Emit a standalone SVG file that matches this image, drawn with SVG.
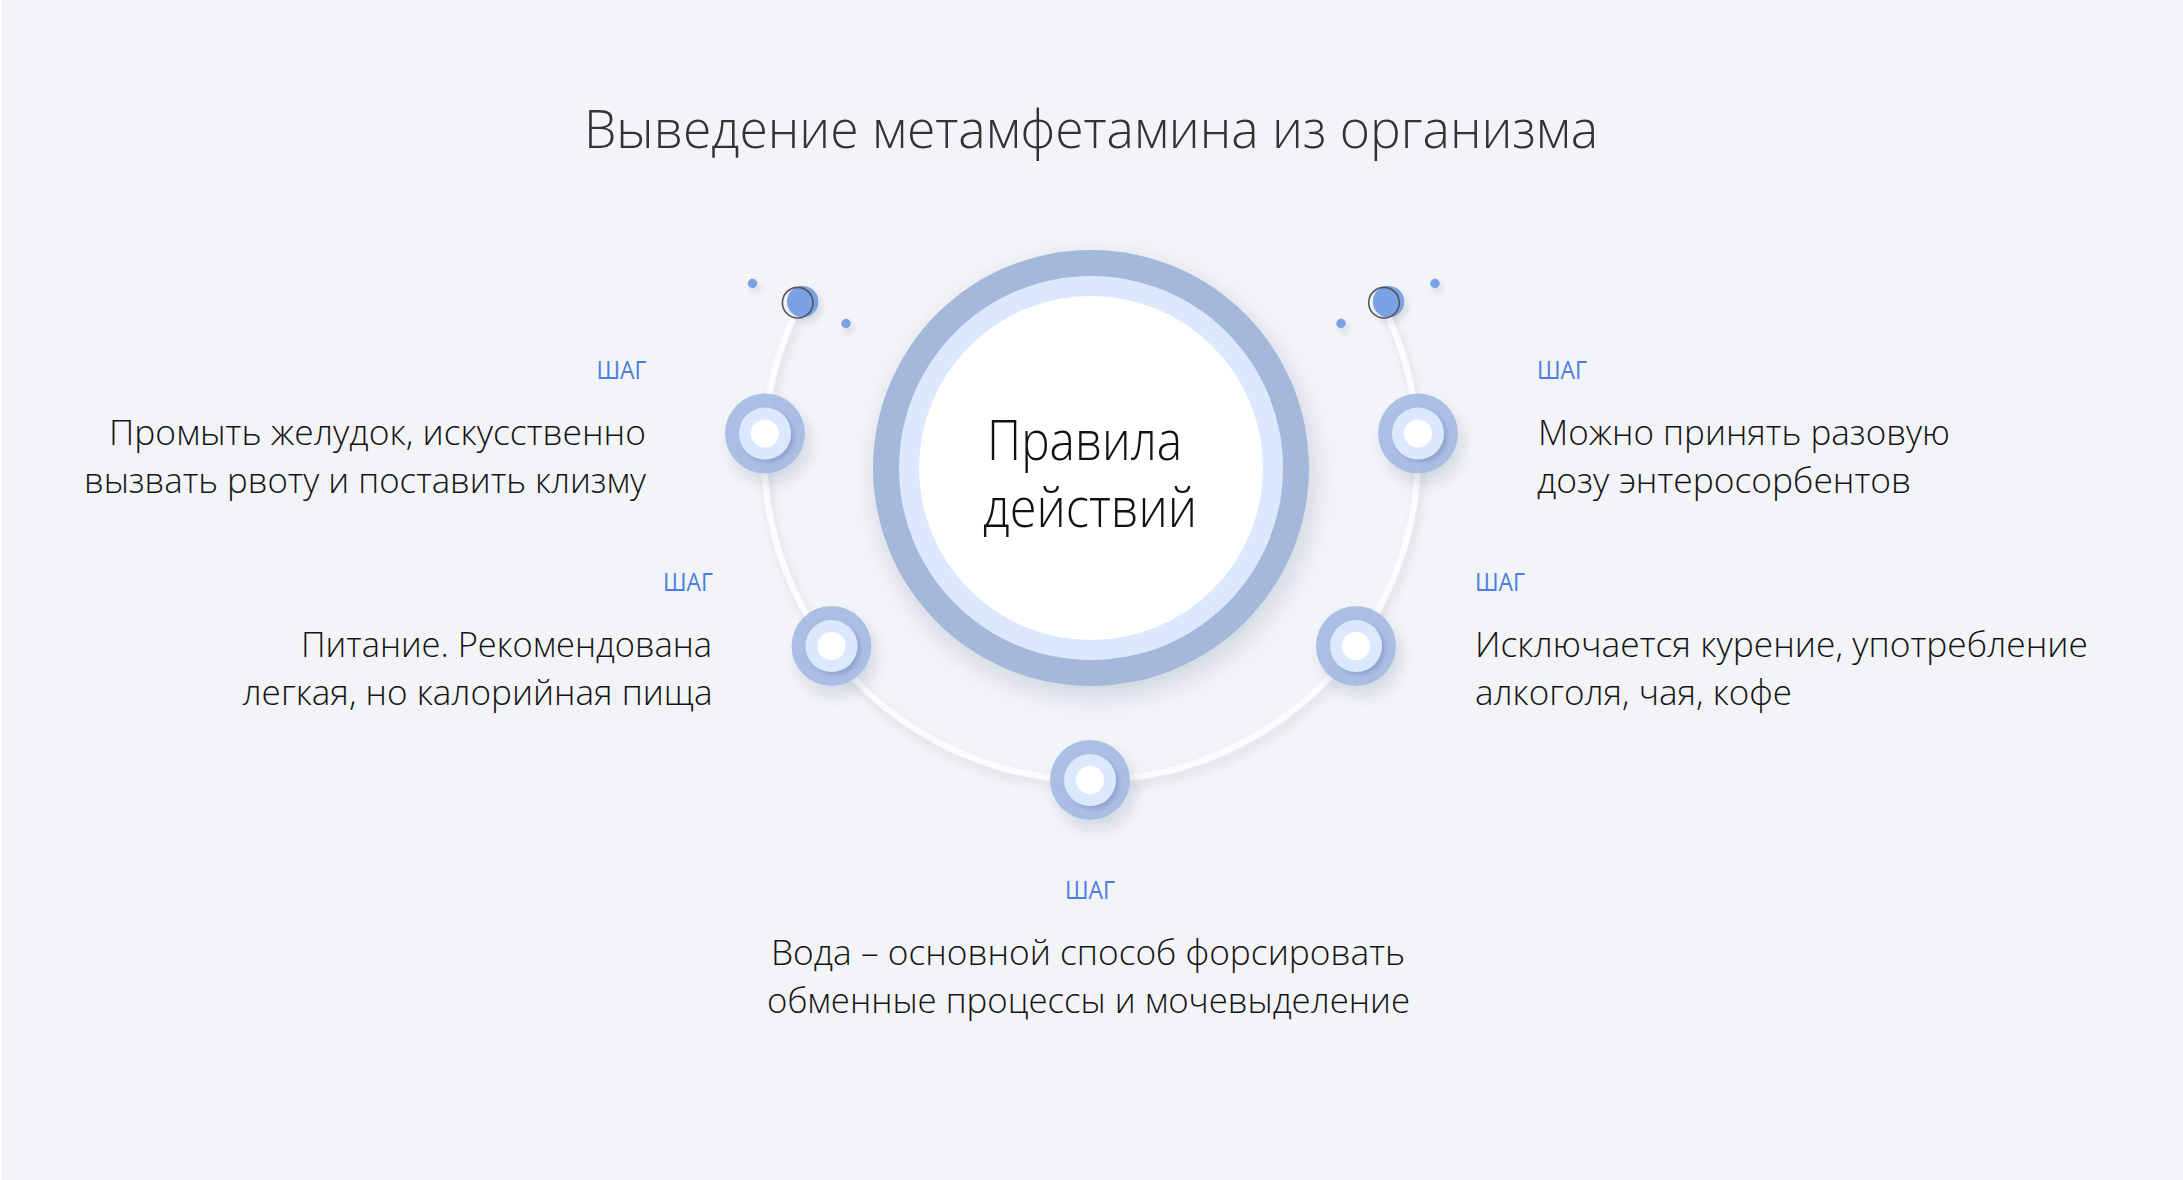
<svg xmlns="http://www.w3.org/2000/svg" width="2183" height="1180" viewBox="0 0 2183 1180">
<style>
.t{font-family:"Open Sans","Liberation Sans",sans-serif;font-weight:300;}
.title{font-size:54px;fill:#333;}
.ctext{font-size:56px;fill:#111;}
.step{font-size:25px;fill:#4a7fe0;font-weight:400;}
.body{font-size:35px;fill:#141414;}
.ring-o{fill:#a4bae2;opacity:0.9;}
.ring-m{fill:#dce8fd;}
.ring-i{fill:#ffffff;}
.dot{fill:#7aa0e6;}
</style>
<defs>
<filter id="shCenter" x="-30%" y="-30%" width="160%" height="160%">
<feDropShadow dx="4" dy="10" stdDeviation="12" flood-color="#1c2a50" flood-opacity="0.16"/>
</filter>
<filter id="shArc" x="-20%" y="-20%" width="140%" height="140%">
<feDropShadow dx="3" dy="6" stdDeviation="5" flood-color="#1c2a50" flood-opacity="0.10"/>
</filter>
<filter id="shNode" x="-60%" y="-60%" width="220%" height="220%">
<feDropShadow dx="5" dy="10" stdDeviation="7" flood-color="#1c2a50" flood-opacity="0.14"/>
</filter>
<filter id="shMid" x="-60%" y="-60%" width="220%" height="220%">
<feDropShadow dx="3" dy="3" stdDeviation="2" flood-color="#5f77a8" flood-opacity="0.35"/>
</filter>
<filter id="shDot" x="-100%" y="-100%" width="300%" height="300%">
<feDropShadow dx="3" dy="5" stdDeviation="3" flood-color="#1c2a50" flood-opacity="0.12"/>
</filter>
<g id="node">
<circle r="40" class="ring-o"/>
<circle r="26" class="ring-m" filter="url(#shMid)"/>
<circle r="14" class="ring-i"/>
</g>
</defs>
<rect x="0" y="0" width="2183" height="1180" fill="#f3f4f8"/>
<rect x="0" y="0" width="2" height="1180" fill="#ffffff"/>

<text class="t title" x="584" y="148" textLength="1014" lengthAdjust="spacingAndGlyphs">Выведение метамфетамина из организма</text>

<g id="connectors">
<path d="M 801.5 301 A 327 327 0 1 0 1380.5 301" fill="none" stroke="#fcfcfe" stroke-width="6" filter="url(#shArc)"/>
</g>

<g id="decor-dots">
<circle cx="752.5" cy="283.5" r="4.7" class="dot" filter="url(#shDot)"/>
<circle cx="846" cy="323.5" r="4.7" class="dot" filter="url(#shDot)"/>
<circle cx="1341" cy="323.5" r="4.7" class="dot" filter="url(#shDot)"/>
<circle cx="1435" cy="283.5" r="4.7" class="dot" filter="url(#shDot)"/>
</g>

<g id="end-left">
<circle cx="802.7" cy="301.7" r="15.7" class="dot" filter="url(#shDot)"/>
<circle cx="797.7" cy="302.7" r="15.3" fill="none" stroke="#555555" stroke-width="1.6"/>
</g>
<g id="end-right">
<circle cx="1388.5" cy="301.7" r="15.7" class="dot" filter="url(#shDot)"/>
<circle cx="1384" cy="302.7" r="15.3" fill="none" stroke="#555555" stroke-width="1.6"/>
</g>

<g id="center">
<circle cx="1091" cy="468" r="218" fill="#a4b8dc" filter="url(#shCenter)"/>
<circle cx="1091" cy="468" r="192" fill="#dce8fd"/>
<circle cx="1091" cy="468" r="172" fill="#ffffff"/>
<text class="t ctext" x="987" y="460" textLength="195" lengthAdjust="spacingAndGlyphs">Правила</text>
<text class="t ctext" x="983" y="527" textLength="214" lengthAdjust="spacingAndGlyphs">действий</text>
</g>

<g id="step-1">
<use href="#node" x="765" y="433.5" filter="url(#shNode)"/>
<text class="t step" x="596.5" y="379" textLength="50" lengthAdjust="spacingAndGlyphs">ШАГ</text>
<text class="t body" x="109" y="445" textLength="537" lengthAdjust="spacingAndGlyphs">Промыть желудок, искусственно</text>
<text class="t body" x="84" y="493" textLength="562" lengthAdjust="spacingAndGlyphs">вызвать рвоту и поставить клизму</text>
</g>

<g id="step-2">
<use href="#node" x="831.5" y="646" filter="url(#shNode)"/>
<text class="t step" x="663" y="591" textLength="50" lengthAdjust="spacingAndGlyphs">ШАГ</text>
<text class="t body" x="301" y="657" textLength="411" lengthAdjust="spacingAndGlyphs">Питание. Рекомендована</text>
<text class="t body" x="242.5" y="705" textLength="470" lengthAdjust="spacingAndGlyphs">легкая, но калорийная пища</text>
</g>

<g id="step-3">
<use href="#node" x="1090" y="780" filter="url(#shNode)"/>
<text class="t step" x="1065" y="899" textLength="50" lengthAdjust="spacingAndGlyphs">ШАГ</text>
<text class="t body" x="771" y="965" textLength="634" lengthAdjust="spacingAndGlyphs">Вода – основной способ форсировать</text>
<text class="t body" x="767" y="1013" textLength="643" lengthAdjust="spacingAndGlyphs">обменные процессы и мочевыделение</text>
</g>

<g id="step-4">
<use href="#node" x="1356" y="646" filter="url(#shNode)"/>
<text class="t step" x="1475" y="591" textLength="50" lengthAdjust="spacingAndGlyphs">ШАГ</text>
<text class="t body" x="1475" y="657" textLength="613" lengthAdjust="spacingAndGlyphs">Исключается курение, употребление</text>
<text class="t body" x="1475" y="705" textLength="317" lengthAdjust="spacingAndGlyphs">алкоголя, чая, кофе</text>
</g>

<g id="step-5">
<use href="#node" x="1418" y="433.5" filter="url(#shNode)"/>
<text class="t step" x="1537" y="379" textLength="50" lengthAdjust="spacingAndGlyphs">ШАГ</text>
<text class="t body" x="1538" y="445" textLength="412" lengthAdjust="spacingAndGlyphs">Можно принять разовую</text>
<text class="t body" x="1537" y="493" textLength="374" lengthAdjust="spacingAndGlyphs">дозу энтеросорбентов</text>
</g>
</svg>
